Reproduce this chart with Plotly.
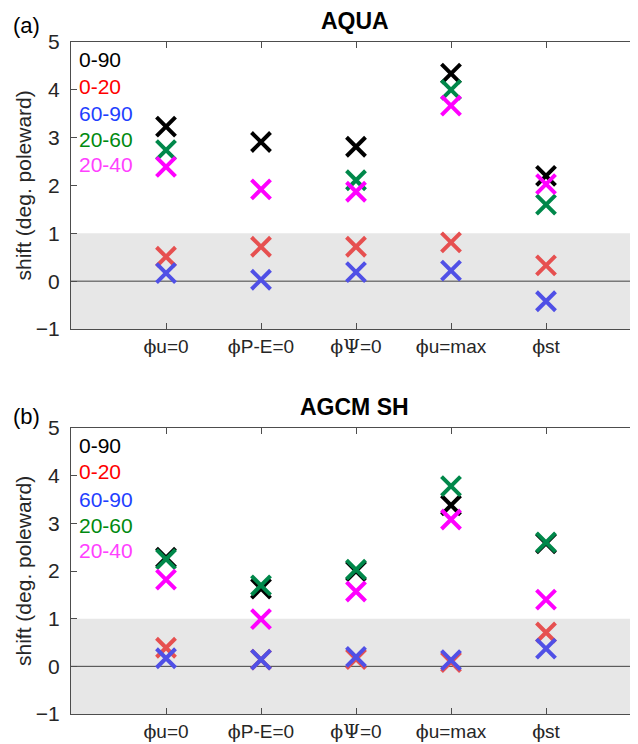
import plotly.graph_objects as go

categories = [1, 2, 3, 4, 5]
tick_labels = [
    "<span style='font-family:DejaVu Serif'>ϕ</span>u=0",
    "<span style='font-family:DejaVu Serif'>ϕ</span>P-E=0",
    "<span style='font-family:DejaVu Serif'>ϕΨ</span>=0",
    "<span style='font-family:DejaVu Serif'>ϕ</span>u=max",
    "<span style='font-family:DejaVu Serif'>ϕ</span>st",
]

# Panel (a) AQUA
aqua_0_90 = [3.23, 2.91, 2.81, 4.34, 2.20]
aqua_0_20 = [0.51, 0.72, 0.72, 0.81, 0.33]
aqua_60_90 = [0.17, 0.03, 0.19, 0.22, -0.42]
aqua_20_60 = [2.74, None, 2.11, 4.00, 1.60]
aqua_20_40 = [2.39, 1.92, 1.87, 3.67, 2.03]

# Panel (b) AGCM SH
agcm_0_90 = [2.28, 1.63, 2.00, 3.38, 2.58]
agcm_0_20 = [0.39, 0.14, 0.15, 0.09, 0.71]
agcm_60_90 = [0.17, 0.14, 0.20, 0.13, 0.37]
agcm_20_60 = [2.25, 1.70, 2.03, 3.78, 2.60]
agcm_20_40 = [1.82, 0.99, 1.57, 3.08, 1.40]

series_names = ["0-90", "0-20", "60-90", "20-60", "20-40"]
marker_colors = ["#000000", "#E65050", "#5050E6", "#00884A", "#FF00FF"]
label_colors = ["#000000", "#FF0000", "#1F3FFF", "#008A10", "#FF40FF"]
label_y = [4.64, 4.08, 3.51, 2.96, 2.43]

panels = [
    ("AQUA", "(a)", [aqua_0_90, aqua_0_20, aqua_60_90, aqua_20_60, aqua_20_40]),
    ("AGCM SH", "(b)", [agcm_0_90, agcm_0_20, agcm_60_90, agcm_20_60, agcm_20_40]),
]

PAGE_W, PAGE_H = 638, 744
OFF = 8  # default page body margin
W, H = PAGE_W - OFF, PAGE_H - OFF
L = 71 - OFF
step = 95.0
xmax = (W - L) / step
# page-pixel extents of the two panels (top, bottom)
pix = [(42, 329), (428, 714)]


def py(p):
    return 1 - (p - OFF) / H


def px(p):
    return (p - OFF) / W


domains = [[py(b), py(t)] for (t, b) in pix]

fig = go.Figure()
axis_col = "#4d4d4d"
FONT = "Liberation Sans, Arial"

for i, (title, tag, data) in enumerate(panels):
    xa = "x" if i == 0 else "x2"
    ya = "y" if i == 0 else "y2"
    for name, vals, col in zip(series_names, data, marker_colors):
        fig.add_trace(go.Scatter(
            x=categories, y=vals, mode="markers", name=name, showlegend=False,
            xaxis=xa, yaxis=ya,
            marker=dict(symbol="x-thin", size=19, color=col,
                        line=dict(width=4, color=col)),
        ))
    t, b = pix[i]
    fig.add_shape(type="rect", xref=f"{xa} domain", yref=ya, x0=0, x1=1, y0=-1, y1=1,
                  fillcolor="#E7E7E7", line_width=0, layer="below")
    fig.add_shape(type="line", xref=f"{xa} domain", yref=ya, x0=0, x1=1, y0=0, y1=0,
                  line=dict(color="#404040", width=1), layer="below")
    for name, col, yy in zip(series_names, label_colors, label_y):
        fig.add_annotation(x=0.06, y=yy, xref=xa, yref=ya, text=name, showarrow=False,
                           xanchor="left", yanchor="middle",
                           font=dict(size=21, color=col, family=FONT))
    fig.add_annotation(x=0.5, y=py(t - 21), xref=f"{xa} domain", yref="paper",
                       text=f"<b>{title}</b>", showarrow=False, xanchor="center",
                       yanchor="middle",
                       font=dict(size=23, color="#000000", family=FONT))
    fig.add_annotation(x=px(11), y=py(t - 17) if i == 0 else py(t - 12),
                       xref="paper", yref="paper",
                       text=tag, showarrow=False, xanchor="left", yanchor="middle",
                       font=dict(size=22, color="#000000", family=FONT))
    fig.add_annotation(x=px(23), y=py((t + b) / 2), xref="paper", yref="paper",
                       text="shift (deg. poleward)", showarrow=False, textangle=-90,
                       xanchor="center", yanchor="middle",
                       font=dict(size=21, color="#262626", family=FONT))

    xaxis = dict(domain=[L / W, 1.0], range=[0, xmax], tickmode="array",
                 tickvals=categories, ticktext=tick_labels, ticks="inside", ticklen=6,
                 tickcolor=axis_col, showline=True, linecolor=axis_col, linewidth=1,
                 mirror="allticks", showgrid=False, zeroline=False, anchor=ya,
                 automargin=False, ticklabelstandoff=0,
                 tickfont=dict(size=19, color="#262626", family=FONT))
    yaxis = dict(domain=domains[i], range=[-1, 5], tickmode="array",
                 tickvals=[-1, 0, 1, 2, 3, 4, 5], ticks="inside", ticklen=6,
                 tickcolor=axis_col, showline=True, linecolor=axis_col, linewidth=1,
                 mirror="allticks", showgrid=False, zeroline=False, anchor=xa,
                 automargin=False, ticklabelstandoff=6,
                 tickfont=dict(size=21, color="#262626", family=FONT))
    if i == 0:
        fig.update_layout(xaxis=xaxis, yaxis=yaxis)
    else:
        fig.update_layout(xaxis2=xaxis, yaxis2=yaxis)

fig.update_layout(width=W, height=H, margin=dict(l=0, r=0, t=0, b=0, autoexpand=False),
                  plot_bgcolor="white", paper_bgcolor="white", showlegend=False)

fig.write_html("out.html")
